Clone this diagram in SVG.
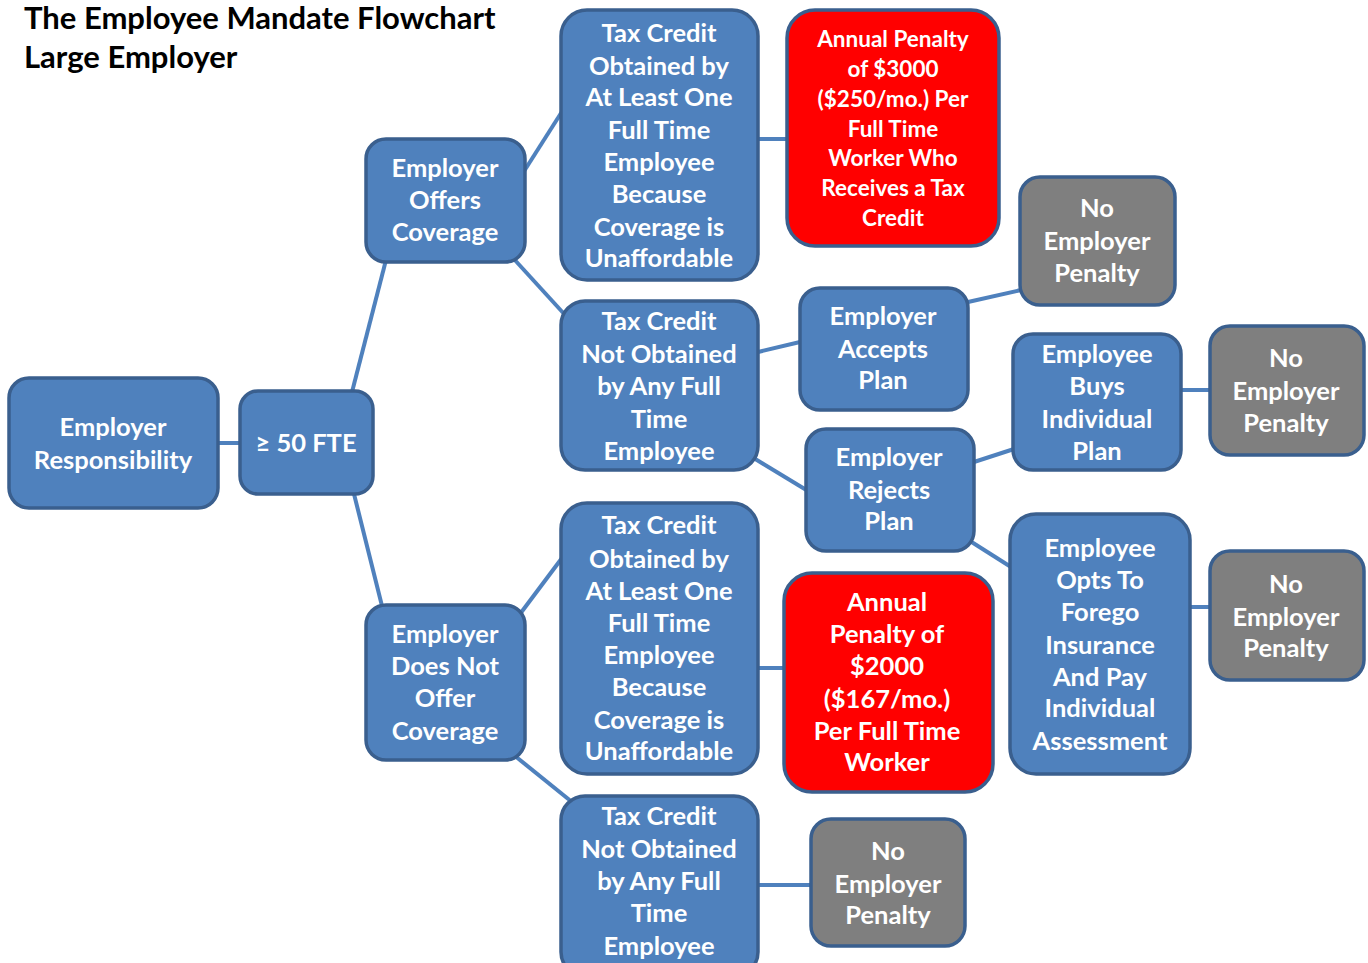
<svg xmlns="http://www.w3.org/2000/svg" width="1368" height="963" viewBox="0 0 1368 963">
<style>
.n rect{stroke:#3A5F8E;stroke-width:3.5}
.b rect{fill:#4F81BD}
.r rect{fill:#FF0000}
.g rect{fill:#7F7F7F}
.n text{font-family:Lato,"Open Sans","Liberation Sans",sans-serif;font-weight:bold;font-size:25.5px;fill:#FFFFFF;text-anchor:middle}
.r text.s{font-size:22.5px}
.title{font-family:Lato,"Open Sans","Liberation Sans",sans-serif;font-weight:bold;font-size:31px;fill:#000}
#connectors line{stroke:#4F81BD;stroke-width:4}
</style>
<rect width="1368" height="963" fill="#FFFFFF"/>
<text class="title" x="24" y="29">The Employee Mandate Flowchart</text>
<text class="title" x="24" y="68">Large Employer</text>
<g id="connectors">
<line x1="218" y1="443" x2="240" y2="443"/>
<line x1="352" y1="392" x2="386" y2="260"/>
<line x1="354" y1="494" x2="382" y2="606"/>
<line x1="521" y1="176" x2="563" y2="110"/>
<line x1="513" y1="258" x2="566" y2="316"/>
<line x1="758" y1="139" x2="787" y2="139"/>
<line x1="758" y1="352" x2="800" y2="342"/>
<line x1="752" y1="457" x2="808" y2="491"/>
<line x1="968" y1="302" x2="1021" y2="290"/>
<line x1="974" y1="462" x2="1014" y2="449"/>
<line x1="970" y1="541" x2="1011" y2="567"/>
<line x1="1181" y1="390" x2="1210" y2="390"/>
<line x1="1190" y1="607" x2="1210" y2="607"/>
<line x1="520" y1="614" x2="562" y2="558"/>
<line x1="515" y1="756" x2="572" y2="802"/>
<line x1="758" y1="668" x2="784" y2="668"/>
<line x1="758" y1="885" x2="811" y2="885"/>
</g>
<g id="employer-responsibility" class="n b"><rect x="9" y="378" width="209" height="130" rx="20"/><text x="113" y="436">Employer</text><text x="113" y="469">Responsibility</text></g>
<g id="fte" class="n b"><rect x="240" y="391" width="133" height="103" rx="18"/><text x="306" y="452">≥ 50 FTE</text></g>
<g id="offers" class="n b"><rect x="366" y="139" width="159" height="123" rx="20"/><text x="445" y="177">Employer</text><text x="445" y="209">Offers</text><text x="445" y="241">Coverage</text></g>
<g id="tc-obtained-1" class="n b"><rect x="561" y="10" width="197" height="270" rx="26"/><text x="659" y="42">Tax Credit</text><text x="659" y="75">Obtained by</text><text x="659" y="106">At Least One</text><text x="659" y="139">Full Time</text><text x="659" y="171">Employee</text><text x="659" y="203">Because</text><text x="659" y="236">Coverage is</text><text x="659" y="267">Unaffordable</text></g>
<g id="penalty-3000" class="n r"><rect x="787" y="10" width="212" height="236" rx="28"/><text class="s" x="893" y="47">Annual Penalty</text><text class="s" x="893" y="77">of $3000</text><text class="s" x="893" y="107">($250/mo.) Per</text><text class="s" x="893" y="137">Full Time</text><text class="s" x="893" y="166">Worker Who</text><text class="s" x="893" y="196">Receives a Tax</text><text class="s" x="893" y="226">Credit</text></g>
<g id="no-penalty-1" class="n g"><rect x="1020" y="177" width="155" height="128" rx="20"/><text x="1097" y="217">No</text><text x="1097" y="250">Employer</text><text x="1097" y="282">Penalty</text></g>
<g id="tc-not-obtained-1" class="n b"><rect x="561" y="301" width="197" height="169" rx="24"/><text x="659" y="330">Tax Credit</text><text x="659" y="363">Not Obtained</text><text x="659" y="395">by Any Full</text><text x="659" y="428">Time</text><text x="659" y="460">Employee</text></g>
<g id="accepts" class="n b"><rect x="800" y="288" width="168" height="122" rx="20"/><text x="883" y="325">Employer</text><text x="883" y="358">Accepts</text><text x="883" y="389">Plan</text></g>
<g id="rejects" class="n b"><rect x="806" y="429" width="168" height="122" rx="20"/><text x="889" y="466">Employer</text><text x="889" y="499">Rejects</text><text x="889" y="530">Plan</text></g>
<g id="buys" class="n b"><rect x="1013" y="334" width="168" height="136" rx="20"/><text x="1097" y="363">Employee</text><text x="1097" y="395">Buys</text><text x="1097" y="428">Individual</text><text x="1097" y="460">Plan</text></g>
<g id="no-penalty-2" class="n g"><rect x="1210" y="326" width="154" height="129" rx="20"/><text x="1286" y="367">No</text><text x="1286" y="400">Employer</text><text x="1286" y="432">Penalty</text></g>
<g id="does-not-offer" class="n b"><rect x="366" y="605" width="159" height="155" rx="20"/><text x="445" y="643">Employer</text><text x="445" y="675">Does Not</text><text x="445" y="707">Offer</text><text x="445" y="740">Coverage</text></g>
<g id="tc-obtained-2" class="n b"><rect x="561" y="503" width="197" height="271" rx="26"/><text x="659" y="534">Tax Credit</text><text x="659" y="568">Obtained by</text><text x="659" y="600">At Least One</text><text x="659" y="632">Full Time</text><text x="659" y="664">Employee</text><text x="659" y="696">Because</text><text x="659" y="729">Coverage is</text><text x="659" y="760">Unaffordable</text></g>
<g id="penalty-2000" class="n r"><rect x="784" y="573" width="209" height="219" rx="28"/><text x="887" y="611">Annual</text><text x="887" y="643">Penalty of</text><text x="887" y="675">$2000</text><text x="887" y="708">($167/mo.)</text><text x="887" y="740">Per Full Time</text><text x="887" y="771">Worker</text></g>
<g id="opts" class="n b"><rect x="1010" y="514" width="180" height="260" rx="26"/><text x="1100" y="557">Employee</text><text x="1100" y="589">Opts To</text><text x="1100" y="621">Forego</text><text x="1100" y="654">Insurance</text><text x="1100" y="686">And Pay</text><text x="1100" y="717">Individual</text><text x="1100" y="750">Assessment</text></g>
<g id="no-penalty-3" class="n g"><rect x="1210" y="551" width="154" height="129" rx="20"/><text x="1286" y="593">No</text><text x="1286" y="626">Employer</text><text x="1286" y="657">Penalty</text></g>
<g id="tc-not-obtained-2" class="n b"><rect x="561" y="796" width="197" height="180" rx="24"/><text x="659" y="825">Tax Credit</text><text x="659" y="858">Not Obtained</text><text x="659" y="890">by Any Full</text><text x="659" y="922">Time</text><text x="659" y="955">Employee</text></g>
<g id="no-penalty-4" class="n g"><rect x="811" y="819" width="154" height="127" rx="20"/><text x="888" y="860">No</text><text x="888" y="893">Employer</text><text x="888" y="924">Penalty</text></g>
</svg>
